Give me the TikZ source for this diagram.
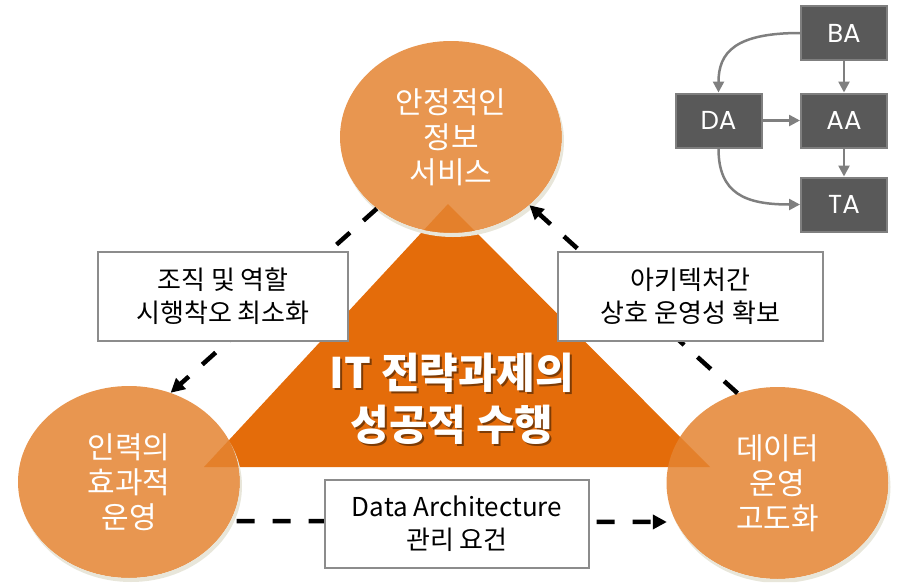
\documentclass[tikz,border=0pt]{standalone}
\usepackage{fontspec}
\setmainfont{Noto Sans CJK KR}
\newfontfamily\archfont{Poppins}
\usetikzlibrary{shapes.geometric,arrows.meta}
\definecolor{triorange}{RGB}{228,108,10}
\definecolor{ballorange}{RGB}{228,132,49}
\definecolor{rimgrey}{RGB}{232,230,218}
\definecolor{boxgrey}{RGB}{89,89,89}
\definecolor{linegrey}{RGB}{127,127,127}
\definecolor{framegrey}{RGB}{140,140,140}

\begin{document}
\begin{tikzpicture}[x=1pt,y=-1pt,
  goal/.style={ellipse,fill=ballorange,fill opacity=0.85,text opacity=1,text=white,
    minimum width=222pt,minimum height=192pt,inner sep=0pt,align=center,
    font=\fontsize{30}{35}\selectfont},
  headline/.style={text=white,align=center,inner sep=0pt,font=\bfseries\fontsize{42}{52}\selectfont},
  memo/.style={draw=framegrey,line width=1.8pt,fill=white,align=center,inner sep=0pt,
    minimum height=89pt,font=\fontsize{26}{33}\selectfont},
  arch/.style={draw=linegrey,line width=2pt,fill=boxgrey,text=white,inner sep=0pt,
    minimum width=86pt,minimum height=54pt,font=\archfont\fontsize{26}{30}\selectfont},
  link/.style={black,line width=4.5pt,dash pattern=on 18pt off 18pt,-{Triangle[length=14pt,width=14pt]}},
  flow/.style={linegrey,line width=2.5pt,-{Triangle[length=11pt,width=11pt]}}]
\useasboundingbox (0,0) rectangle (903,582);

\fill[triorange] (448,204) -- (710,467) -- (204,467) -- cycle;
\node[headline,text=black,text opacity=0.45] at (454,401) {IT 전략과제의\\성공적 수행};
\node[headline] (task) at (452,399) {IT 전략과제의\\성공적 수행};

\node[goal] (stable) at (451,137) {안정적인\\정보\\서비스};
\node[goal] (staff) at (129,482) {인력의\\효과적\\운영};
\node[goal] (data) at (777.5,483) {데이터\\운영\\고도화};
\foreach \n in {stable,staff,data}{
  \begin{scope}[even odd rule]
    \clip (0,0) rectangle (903,582) (\n.center) ellipse [x radius=111,y radius=96];
    \fill[rimgrey] ([shift={(2,4)}]\n.center) ellipse [x radius=111,y radius=96];
  \end{scope}
}

\draw[link] (stable.224) -- (staff.65);
\draw[link] (data.114) -- (stable.319);
\draw[link,shorten <=6pt,shorten >=9pt] (staff.-21) -- (data.201);

\node[memo,minimum width=250pt] (role) at (223,296.5) {조직 및 역할\\시행착오 최소화};
\node[memo,minimum width=265pt] (inter) at (690.5,296.5) {아키텍처간\\상호 운영성 확보};
\node[memo,minimum width=264pt,minimum height=88pt] (rule) at (457,524) {Data Architecture\\관리 요건};

\node[arch] (ba) at (844,33) {BA};
\node[arch] (da) at (718.5,120.5) {DA};
\node[arch] (aa) at (844,120.5) {AA};
\node[arch] (ta) at (844,204.5) {TA};
\draw[flow] (ba) -- (aa);
\draw[flow] (da) -- (aa);
\draw[flow] (aa) -- (ta);
\draw[flow] (ba.west) .. controls +(-65,0) and +(0,-40) .. (da.north);
\draw[flow] (da.south) .. controls +(0,45) and +(-55,0) .. (ta.west);
\end{tikzpicture}
\end{document}
